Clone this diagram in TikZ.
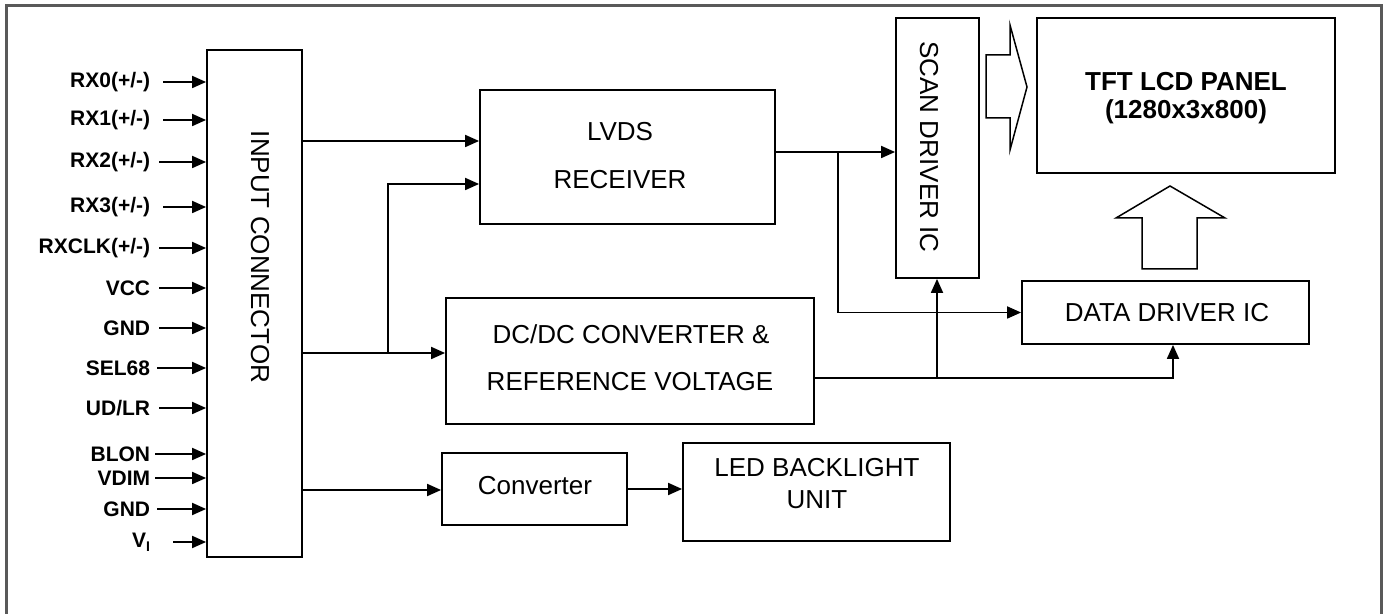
\documentclass[tikz,border=0pt]{standalone}
\usepackage{fontspec}
\setmainfont{Liberation Sans}
\usetikzlibrary{arrows.meta,fit}
\begin{document}
\begin{tikzpicture}[x=0.5pt,y=-0.5pt,
  line width=0.9pt,
  box/.style={draw, inner sep=0pt, line width=0.9pt},
  txt/.style={inner sep=0pt, font=\fontsize{13}{15}\selectfont},
  btxt/.style={inner sep=0pt, font=\bfseries\fontsize{13}{15}\selectfont},
  arr/.style={-{Triangle[length=7pt,width=6pt]}},
  lbl/.style={font=\bfseries\fontsize{10.5}{12}\selectfont, inner sep=0pt, anchor=east},
  vtext/.style={rotate=-90, font=\fontsize{13}{15}\selectfont, inner sep=0pt},
  hollow/.style={draw, line width=0.75pt, fill=white}]
\useasboundingbox (0,0) rectangle (1388,614);
\draw[line width=1.5pt, draw=black!65] (6,630) -- (6,6) -- (1381,6) -- (1381,630);

% blocks
\node[box, fit={(207,50) (302,557)}] (conn) {};
\node[vtext] (connT) at (260,257) {INPUT CONNECTOR};
\node[box, fit={(480,90) (775,224)}] (lvds) {};
\node[txt] (lvdsT1) at (620,132) {LVDS};
\node[txt] (lvdsT2) at (620,180) {RECEIVER};
\node[box, fit={(446,298) (814,424)}] (dcdc) {};
\node[txt] (dcdcT1) at (631,334) {DC/DC CONVERTER \&};
\node[txt] (dcdcT2) at (630,382) {REFERENCE VOLTAGE};
\node[box, fit={(896,18) (979,278)}] (scan) {};
\node[vtext] (scanT) at (929,147) {SCAN DRIVER IC};
\node[box, fit={(1037,18) (1335,173)}] (tft) {};
\node[btxt] (tftT1) at (1186,82) {TFT LCD PANEL};
\node[btxt] (tftT2) at (1186,112) {(1280x3x800)};
\node[box, fit={(1022,281) (1309,344)}] (data) {};
\node[txt] (dataT) at (1167,313) {DATA DRIVER IC};
\node[box, fit={(442,453) (627,525)}] (conv) {};
\node[txt] (convT) at (535,486) {Converter};
\node[box, fit={(683,443) (950,541)}] (led) {};
\node[txt] (ledT1) at (817,468) {LED BACKLIGHT};
\node[txt] (ledT2) at (817,500) {UNIT};

% hollow arrows
\draw[hollow] (986,55) -- (1010,55) -- (1010,25) -- (1027,87) -- (1010,150) -- (1010,118) -- (986,118) -- cycle;
\draw[hollow] (1142,269) -- (1142,218) -- (1116,218) -- (1170,186) -- (1225,218) -- (1197,218) -- (1197,269) -- cycle;

% input pins
\foreach \y/\s/\t [count=\i] in {82/163/{RX0(+/-)}, 120/163/{RX1(+/-)}, 162/159/{RX2(+/-)}, 207/163/{RX3(+/-)}, 248/159/{RXCLK(+/-)}, 288/159/VCC, 328/159/GND, 368/157/SEL68, 408/159/{UD/LR}, 454/155/BLON, 478/155/VDIM, 509/157/GND, 542/173/{V\raisebox{-0.35ex}{\scriptsize I}}}{
  \node[lbl] (L\i) at (151,\y) {\t};
  \draw[arr] ([xshift={(\s-151)*0.5pt}]L\i.east) -- (conn.west |- 0,\y);
}

% connectors
\coordinate (b1) at (388,353);
\coordinate (b2) at (838,152);
\coordinate (b3) at (937,378);
\draw[arr] (conn.east |- 0,141) -- (lvds.west |- 0,141);
\draw[arr] (conn.east |- 0,353) -- (dcdc.west |- 0,353);
\draw[arr] (b1) |- (lvds.west |- 0,184);
\draw[arr] (lvds.east |- 0,152) -- (scan.west |- 0,152);
\draw[arr] (b2) |- (data.west);
\draw[arr] (dcdc.east |- 0,378) -| (data.south -| 1173,0);
\draw[arr] (b3) -- (scan.south -| b3);
\draw[arr] (conn.east |- 0,490) -- (conv.west |- 0,490);
\draw[arr] (conv.east) -- (led.west |- conv.east);
\end{tikzpicture}
\end{document}
